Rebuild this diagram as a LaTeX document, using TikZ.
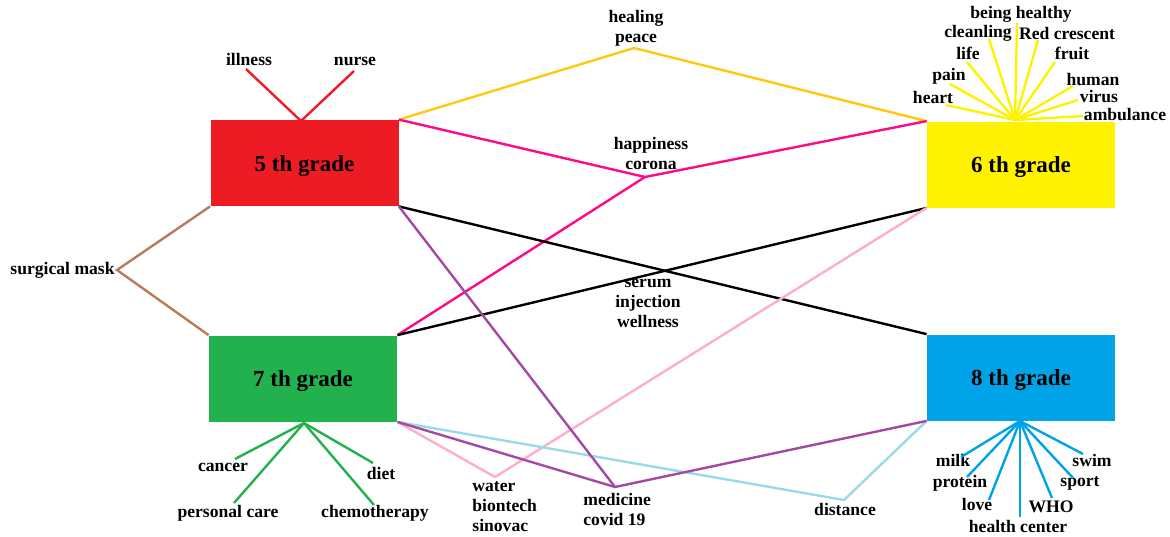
\documentclass[tikz,border=0pt]{standalone}
\usepackage{fontspec}
\setmainfont{Liberation Serif}
\usetikzlibrary{calc}
\definecolor{pRed}{HTML}{ED1C24}
\definecolor{pYellow}{HTML}{FFF200}
\definecolor{pGreen}{HTML}{22B14C}
\definecolor{pBlue}{HTML}{00A2E8}
\definecolor{pOrange}{HTML}{FFC90E}
\definecolor{pPink}{HTML}{FF0A84}
\definecolor{pPurple}{HTML}{A349A4}
\definecolor{pRose}{HTML}{FFAEC9}
\definecolor{pSky}{HTML}{99D9EA}
\definecolor{pBrown}{HTML}{B97A57}

\begin{document}
\begin{tikzpicture}[x=0.5pt, y=-0.5pt,
		grade/.style={minimum width=94pt, minimum height=43pt, inner sep=0pt, text height=8pt, text depth=0pt, font=\fontsize{11.5}{13}\selectfont\bfseries},
		word/.style={inner sep=0pt, font=\fontsize{8.8}{10}\selectfont\bfseries},
		link/.style={line width=1.2pt}]
		%%%%% START %%%%%
		\useasboundingbox (0, 0) rectangle (1170, 536);
		
		\node[grade, fill=pRed] (g5) at (304.5, 163) {5 th grade};
		\node[grade, fill=pYellow] (g6) at (1021, 164.5) {6 th grade};
		\node[grade, fill=pGreen] (g7) at (303, 378.5) {7 th grade};
		\node[grade, fill=pBlue] (g8) at (1021, 377.5) {8 th grade};
		
		\coordinate (heal) at (634, 48);
		\coordinate (happy) at (645, 177);
		\coordinate (mask) at (117, 270);
		\coordinate (water) at (495, 477);
		\coordinate (med) at (615, 487);
		\coordinate (dist) at (844, 500);
		
		\node[word, align=center] (healtxt) at (636, 28) {healing\\peace};
		\node[word, align=center] (happytxt) at (651, 153) {happiness\\corona};
		\node[word, align=center] (serumtxt) at (648, 303) {serum\\injection\\wellness};
		\node[word, anchor=east] (masktxt) at (115, 270) {surgical mask};
		\node[word, align=left, anchor=west] (watertxt) at (472, 507) {water\\biontech\\sinovac};
		\node[word, align=left, anchor=west] (medtxt) at (583, 509) {medicine\\covid 19};
		\node[word] (disttxt) at (845, 509) {distance};
		
		\draw[link, color=pOrange] (g5.north east) -- (heal) -- (g6.north west);
		\draw[link, color=pPink] (g5.north east) -- (happy) -- (g6.north west);
		\draw[link, color=pPink] (happy) -- (g7.north east);
		\draw[link, color=black] (g5.south east) -- (g8.north west);
		\draw[link, color=black] (g7.north east) -- (g6.south west);
		\draw[link, color=pRose] (g6.south west) -- (water) -- (g7.south east);
		\draw[link, color=pSky] (g7.south east) -- (dist) -- (g8.south west);
		\draw[link, color=pPurple] (g5.south east) -- (med) -- (g8.south west);
		\draw[link, color=pPurple] (g7.south east) -- (med);
		\draw[link, color=pBrown] (g5.south west) -- (mask) -- (g7.north west);
		
		% 5th grade
		\coordinate (fan5) at (301, 121);
		\foreach \n/\t/\x/\y/\ex/\ey in {illness/illness/249/59/246/69, nurse/nurse/355/61/354/71}
		{\node[word] (\n) at (\x, \y) {\t};
			\coordinate (\n-end) at (\ex, \ey);
			\draw[link, color=pRed] (fan5) -- (\n-end);}
		
		% 6th grade
		\coordinate (fan6) at (1015, 120);
		\foreach \n/\t/\x/\y/\ex/\ey in {heart/heart/933/97/946/105, pain/pain/949/76/950/84,
			life/life/968/53/967/62, clean/cleanling/978/33/989/39,
			being/being healthy/1021/14/1017/23, red/Red crescent/1067/33/1038/40,
			fruit/fruit/1072/53/1055/62, human/human/1093/79/1073/86,
			virus/virus/1099/96/1078/100, amb/ambulance/1125/114/1083/116}
		{\node[word] (\n) at (\x, \y) {\t};
			\coordinate (\n-end) at (\ex, \ey);
			\draw[link, color=pYellow] (fan6) -- (\n-end);}
		
		% 7th grade
		\coordinate (fan7) at (304, 423);
		\foreach \n/\t/\x/\y/\ex/\ey in {cancer/cancer/223/467/235/459, care/personal care/228/513/234/503,
			diet/diet/381/473/373/463, chemo/chemotherapy/375/513/374/505}
		{\node[word] (\n) at (\x, \y) {\t};
			\coordinate (\n-end) at (\ex, \ey);
			\draw[link, color=pGreen] (fan7) -- (\n-end);}
		
		% 8th grade
		\coordinate (fan8) at (1020, 421);
		\foreach \n/\t/\x/\y/\ex/\ey in {milk/milk/953/460/961/457, protein/protein/960/483/967/477,
			love/love/977/504/989/500, hc/health center/1018/526/1020/517,
			who/WHO/1051/507/1052/498, sport/sport/1080/483/1073/478,
			swim/swim/1092/460/1083/454}
		{\node[word] (\n) at (\x, \y) {\t};
			\coordinate (\n-end) at (\ex, \ey);
			\draw[link, color=pBlue] (fan8) -- (\n-end);}
		%%%%% END %%%%%
\end{tikzpicture}
\end{document}
